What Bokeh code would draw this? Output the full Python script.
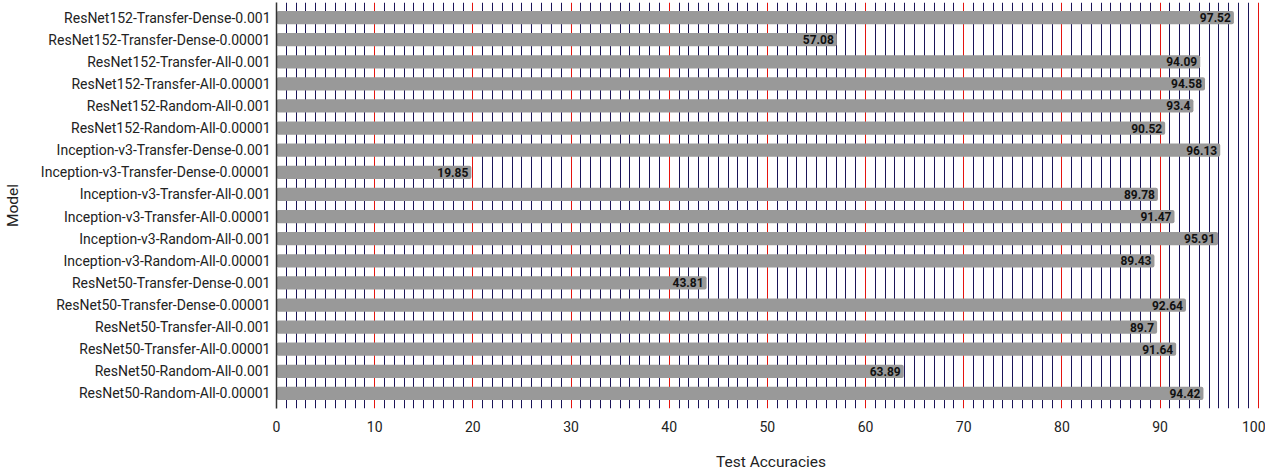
from bokeh.plotting import figure
from bokeh.models import FactorRange, Range1d, FixedTicker, Grid, ColumnDataSource
from bokeh.core.properties import value
from bokeh.embed import file_html
from bokeh.resources import INLINE

models = [
    "ResNet152-Transfer-Dense-0.001",
    "ResNet152-Transfer-Dense-0.00001",
    "ResNet152-Transfer-All-0.001",
    "ResNet152-Transfer-All-0.00001",
    "ResNet152-Random-All-0.001",
    "ResNet152-Random-All-0.00001",
    "Inception-v3-Transfer-Dense-0.001",
    "Inception-v3-Transfer-Dense-0.00001",
    "Inception-v3-Transfer-All-0.001",
    "Inception-v3-Transfer-All-0.00001",
    "Inception-v3-Random-All-0.001",
    "Inception-v3-Random-All-0.00001",
    "ResNet50-Transfer-Dense-0.001",
    "ResNet50-Transfer-Dense-0.00001",
    "ResNet50-Transfer-All-0.001",
    "ResNet50-Transfer-All-0.00001",
    "ResNet50-Random-All-0.001",
    "ResNet50-Random-All-0.00001",
]
accuracies = [97.52, 57.08, 94.09, 94.58, 93.4, 90.52, 96.13, 19.85, 89.78, 91.47,
              95.91, 89.43, 43.81, 92.64, 89.7, 91.64, 63.89, 94.42]
acc_labels = ["97.52", "57.08", "94.09", "94.58", "93.4", "90.52", "96.13", "19.85", "89.78",
              "91.47", "95.91", "89.43", "43.81", "92.64", "89.7", "91.64", "63.89", "94.42"]
x_ticks = [0, 10, 20, 30, 40, 50, 60, 70, 80, 90, 100]
minor_lines = [v for v in range(0, 101) if v % 10 != 0]
major_lines = [v for v in range(10, 101, 10)]

FONT = "Roboto"

src = ColumnDataSource(dict(model=models, acc=accuracies, lab=acc_labels))

p = figure(
    frame_width=989, frame_height=406,
    y_range=FactorRange(factors=list(reversed(models)), range_padding=0.02, range_padding_units="percent"),
    x_range=Range1d(0, 100.74),
    output_backend="svg", toolbar_location=None,
    min_border_left=268, min_border_right=0, min_border_top=2, min_border_bottom=0,
    x_axis_label="Test Accuracies", y_axis_label="Model",
)
p.outline_line_color = None
p.xgrid.grid_line_color = None
p.ygrid.grid_line_color = None

g1 = Grid(dimension=0, ticker=FixedTicker(ticks=minor_lines), grid_line_color="#1a1458", grid_line_width=1)
g2 = Grid(dimension=0, ticker=FixedTicker(ticks=major_lines), grid_line_color="#e3140f", grid_line_width=1)
p.add_layout(g1)
p.add_layout(g2)

p.hbar(y="model", right="acc", left=0, height=0.6, source=src,
       fill_color="#999999", line_color=None, border_radius=2)

p.text(x="acc", y="model", text="lab", source=src, x_offset=-3,
       text_align="right", text_baseline="middle",
       text_font=value(FONT), text_font_size="12px", text_font_style="bold", text_color="#111111")

p.xaxis.ticker = FixedTicker(ticks=x_ticks)
p.xaxis.major_tick_line_color = None
p.xaxis.minor_tick_line_color = None
p.xaxis.axis_line_color = None
p.xaxis.major_label_standoff = 6
p.xaxis.axis_label_standoff = 18

p.yaxis.major_tick_line_color = None
p.yaxis.minor_tick_line_color = None
p.yaxis.axis_line_color = "#333333"
p.yaxis.axis_line_width = 1.5
p.yaxis.major_label_standoff = 0
p.yaxis.axis_label_standoff = 16

for ax in (p.xaxis, p.yaxis):
    ax.major_label_text_font = FONT
    ax.major_label_text_font_size = "14px"
    ax.major_label_text_color = "#222222"
    ax.axis_label_text_font = FONT
    ax.axis_label_text_font_size = "15.5px"
    ax.axis_label_text_font_style = "normal"
    ax.axis_label_text_color = "#222222"

open("out.html", "w").write(file_html(p, INLINE))
